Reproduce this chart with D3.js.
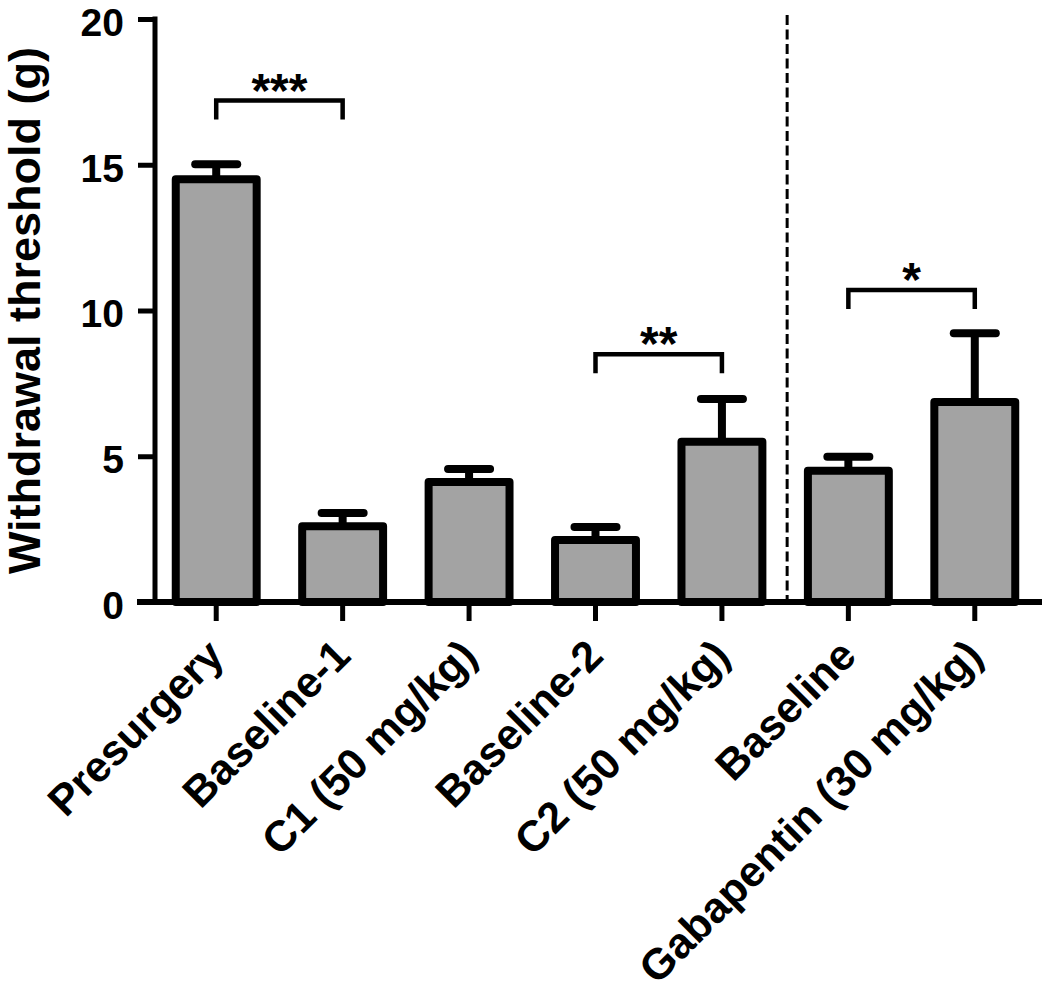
<!DOCTYPE html>
<html>
<head>
<meta charset="utf-8">
<script src="https://cdn.jsdelivr.net/npm/d3@7"></script>
<style>
  html, body { margin: 0; padding: 0; background: #fff; }
  svg { display: block; }
</style>
</head>
<body>
<svg id="chart" width="1050" height="997"></svg>
<script>
// ---- data ----
const categories = ["Presurgery", "Baseline-1", "C1 (50 mg/kg)", "Baseline-2", "C2 (50 mg/kg)", "Baseline", "Gabapentin (30 mg/kg)"];
const means = [14.5, 2.6, 4.12, 2.13, 5.5, 4.5, 6.86];
const sems  = [0.52, 0.45, 0.44, 0.44, 1.46, 0.48, 2.36];
const yTicks = [0, 5, 10, 15, 20];
const yTitle = "Withdrawal threshold (g)";
// significance brackets: from index, to index, y value of bracket, label
const sigFrom = [0, 3, 5];
const sigTo   = [1, 4, 6];
const sigLevel = [17.2, 8.5, 10.7];
const sigLabel = ["***", "**", "*"];
const dividerAfter = 4; // dashed separator between categories 4 and 5

// ---- layout ----
const svg = d3.select("#chart");
const font = "'Liberation Sans', Arial, Helvetica, sans-serif";
const axisX = 155, baseY = 602, topY = 19;

const x = d3.scaleBand().domain(categories).range([153, 1038]).paddingInner(0.36).paddingOuter(0.18);
const y = d3.scaleLinear().domain([0, 20]).range([baseY, topY]);
const cx = d => x(d) + x.bandwidth() / 2;

// dashed divider
const divX = (cx(categories[dividerAfter]) + cx(categories[dividerAfter + 1])) / 2 + 2;
svg.append("line")
  .attr("x1", divX).attr("x2", divX).attr("y1", 15).attr("y2", baseY)
  .attr("stroke", "#000").attr("stroke-width", 3).attr("stroke-dasharray", "10,4.5");

// error bars (behind bars)
const eb = svg.append("g");
categories.forEach((c, i) => {
  eb.append("line").attr("x1", cx(c)).attr("x2", cx(c))
    .attr("y1", y(means[i])).attr("y2", y(means[i] + sems[i]))
    .attr("stroke", "#000").attr("stroke-width", 8);
  eb.append("line").attr("x1", cx(c) - 21).attr("x2", cx(c) + 21)
    .attr("y1", y(means[i] + sems[i])).attr("y2", y(means[i] + sems[i]))
    .attr("stroke", "#000").attr("stroke-width", 8).attr("stroke-linecap", "round");
});

// bars
svg.append("g").selectAll("rect").data(categories).join("rect")
  .attr("x", d => x(d))
  .attr("y", (d, i) => y(means[i]))
  .attr("width", x.bandwidth())
  .attr("height", (d, i) => baseY - y(means[i]))
  .attr("fill", "#a3a3a3")
  .attr("stroke", "#000").attr("stroke-width", 8).attr("stroke-linejoin", "round");

// y axis
const yAxis = svg.append("g").attr("transform", `translate(${axisX},0)`)
  .call(d3.axisLeft(y).tickValues(yTicks).tickSize(17).tickPadding(14).tickFormat(d3.format("d")));
yAxis.select(".domain").remove();
yAxis.selectAll(".tick line").attr("stroke", "#000").attr("stroke-width", 5);
yAxis.selectAll(".tick text").attr("font-family", font).attr("font-weight", "bold").attr("font-size", 39).attr("fill", "#000").attr("dy", "0.42em");
svg.append("line").attr("x1", axisX).attr("x2", axisX).attr("y1", topY - 2.5).attr("y2", baseY)
  .attr("stroke", "#000").attr("stroke-width", 5);

// x axis
const xAxis = svg.append("g").attr("transform", `translate(0,${baseY})`)
  .call(d3.axisBottom(x).tickSize(19).tickFormat(""));
xAxis.select(".domain").remove();
xAxis.selectAll(".tick line").attr("stroke", "#000").attr("stroke-width", 5);
svg.append("line").attr("x1", 137).attr("x2", 1042).attr("y1", baseY).attr("y2", baseY)
  .attr("stroke", "#000").attr("stroke-width", 6);

// category labels
xAxis.selectAll(".tick").append("text")
  .attr("text-anchor", "end")
  .attr("transform", "translate(10,56) rotate(-45)")
  .attr("font-family", font).attr("font-weight", "bold").attr("font-size", 43).attr("fill", "#000")
  .text(d => d);

// y title
svg.append("text")
  .attr("transform", `translate(40,${(topY + baseY) / 2}) rotate(-90)`)
  .attr("text-anchor", "middle")
  .attr("font-family", font).attr("font-weight", "bold").attr("font-size", 45).attr("fill", "#000")
  .text(yTitle);

// significance brackets
sigFrom.forEach((f, k) => {
  const x1 = cx(categories[f]), x2 = cx(categories[sigTo[k]]);
  const yy = y(sigLevel[k]);
  svg.append("path")
    .attr("d", `M${x1},${yy + 19}V${yy}H${x2}V${yy + 19}`)
    .attr("fill", "none").attr("stroke", "#000").attr("stroke-width", 4.5);
  svg.append("text")
    .attr("x", (x1 + x2) / 2).attr("y", yy + 6)
    .attr("text-anchor", "middle")
    .attr("font-family", font).attr("font-weight", "bold").attr("font-size", 48).attr("fill", "#000")
    .text(sigLabel[k]);
});
</script>
</body>
</html>
